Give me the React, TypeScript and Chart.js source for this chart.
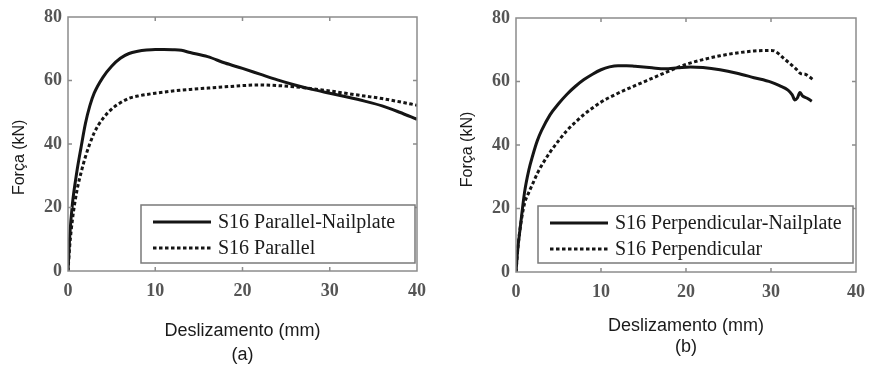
import React, { useEffect, useRef } from 'react';
import { Chart, registerables } from 'chart.js';
Chart.register(...registerables);

// ---- data ----
const X_TICKS = [0, 10, 20, 30, 40];
const Y_TICKS = [0, 20, 40, 60, 80];

const parNailX = [0, 0.2, 0.5, 1, 1.5, 2, 2.5, 3, 4, 5, 6, 7, 8, 9, 10, 11, 12, 13, 14, 16, 18, 20, 22, 24, 26, 28, 30, 32, 34, 36, 38, 40];
const parNailY = [0, 11, 21, 31, 39, 46.5, 52, 56, 61, 64.5, 67, 68.5, 69.2, 69.6, 69.8, 69.8, 69.7, 69.5, 68.8, 67.5, 65.5, 63.8, 62, 60.2, 58.6, 57.2, 56, 54.8, 53.5, 52, 50, 47.8];

const parX = [0, 0.2, 0.5, 1, 1.5, 2, 3, 4, 5, 6, 7, 8, 10, 12, 14, 16, 18, 20, 22, 24, 26, 28, 30, 32, 34, 36, 38, 40];
const parY = [0, 8, 16, 25, 31, 36, 43.5, 48, 51, 53, 54.4, 55.1, 56, 56.7, 57.2, 57.6, 58, 58.4, 58.6, 58.4, 58, 57.4, 56.7, 55.9, 55.1, 54.3, 53.3, 52.2];

const perpNailX = [0, 0.2, 0.5, 1, 1.5, 2, 2.5, 3, 4, 5, 6, 7, 8, 9, 10, 11, 12, 13, 14, 16, 17.5, 19, 20.5, 22, 24, 26, 28, 30, 31, 32, 32.5, 32.8, 33.1, 33.4, 33.7, 34.2, 34.8];
const perpNailY = [0, 7, 14, 25, 32, 37, 41.3, 44.5, 49.5, 53, 56, 58.5, 60.6, 62.3, 63.7, 64.6, 65, 65, 64.8, 64.3, 64, 64.3, 64.6, 64.4, 63.7, 62.6, 61.2, 59.8, 58.7, 57.3, 55.8, 54.2, 54.8, 56.5, 55.5, 54.8, 53.8];

const perpX = [0, 0.2, 0.5, 1, 1.5, 2, 2.5, 3, 4, 5, 6, 7, 8, 10, 12, 14, 16, 18, 20, 22, 24, 26, 28, 30, 30.5, 31.5, 32.5, 33, 33.5, 34, 34.5, 35];
const perpY = [0, 7, 14, 21.5, 25, 28, 31, 33.5, 37.7, 41.3, 44.6, 47.2, 49.6, 53.5, 56.3, 58.7, 61, 63.3, 65.4, 66.9, 68.1, 69, 69.6, 69.8, 69.5, 67.3, 65, 63.8, 62.5, 62.3, 61.5, 60.5];

const FRAME = '#8c8c8c';
const INK = '#151515';

const framePlugin = {
  id: 'frameLegend',
  afterDatasetsDraw(chart: any, _args: any, opts: any) {
    const { ctx, chartArea: a, scales } = chart;
    ctx.save();
    ctx.strokeStyle = FRAME;
    ctx.lineWidth = 1.5;
    ctx.strokeRect(a.left, a.top, a.right - a.left, a.bottom - a.top);
    ctx.beginPath();
    scales.x.ticks.forEach((t: any) => {
      const px = scales.x.getPixelForValue(t.value);
      if (px <= a.left + 1 || px >= a.right - 1) return;
      ctx.moveTo(px, a.bottom); ctx.lineTo(px, a.bottom - 4);
      ctx.moveTo(px, a.top); ctx.lineTo(px, a.top + 4);
    });
    scales.y.ticks.forEach((t: any) => {
      const py = scales.y.getPixelForValue(t.value);
      if (py <= a.top + 1 || py >= a.bottom - 1) return;
      ctx.moveTo(a.left, py); ctx.lineTo(a.left + 4, py);
      ctx.moveTo(a.right, py); ctx.lineTo(a.right - 4, py);
    });
    ctx.stroke();

    // legend box
    const L = a.left + opts.offLeft;
    const R = a.right - opts.offRight;
    const B = a.bottom - opts.offBottom;
    const T = B - opts.height;
    ctx.fillStyle = '#ffffff';
    ctx.fillRect(L, T, R - L, B - T);
    ctx.strokeStyle = '#7a7a7a';
    ctx.lineWidth = 1.5;
    ctx.strokeRect(L, T, R - L, B - T);
    chart.data.datasets.forEach((ds: any, i: number) => {
      const yy = T + 17 + i * 26;
      ctx.beginPath();
      ctx.strokeStyle = INK;
      ctx.lineWidth = 3;
      ctx.setLineDash(ds.borderDash || []);
      ctx.moveTo(L + 12, yy);
      ctx.lineTo(L + 70, yy);
      ctx.stroke();
      ctx.setLineDash([]);
      ctx.fillStyle = '#1a1a1a';
      ctx.font = '20px "Liberation Serif", serif';
      ctx.textBaseline = 'middle';
      ctx.textAlign = 'left';
      ctx.fillText(ds.label, L + 77, yy + 1);
    });
    ctx.restore();
  },
};

type Series = { label: string; xs: number[]; ys: number[]; dashed: boolean };

function Panel(props: {
  left: number; width: number; padTop: number; padRight: number;
  yWidth: number; xHeight: number; yTitlePad: number; yTitle: string;
  caption: string; xLineHeight: number; xTitlePB: number;
  series: Series[]; legend: any;
}) {
  const ref = useRef<HTMLCanvasElement>(null);
  useEffect(() => {
    const tickFont = { family: '"Liberation Serif", serif', size: 18, weight: 'bold' };
    const chart = new Chart(ref.current!, {
      type: 'line',
      data: {
        datasets: props.series.map((s) => ({
          label: s.label,
          data: s.xs.map((x, i) => ({ x, y: s.ys[i] })),
          borderColor: INK,
          borderWidth: 3,
          borderDash: s.dashed ? [3.5, 2.5] : [],
          pointRadius: 0,
          fill: false,
          cubicInterpolationMode: 'monotone',
        })),
      },
      options: {
        responsive: false,
        animation: false,
        layout: { padding: { top: props.padTop, right: props.padRight, left: 0, bottom: 0 } },
        plugins: { legend: { display: false }, tooltip: { enabled: false }, frameLegend: props.legend },
        scales: {
          x: {
            type: 'linear', min: 0, max: 40,
            afterBuildTicks: (s: any) => { s.ticks = X_TICKS.map((v) => ({ value: v })); },
            afterFit: (s: any) => { s.height = props.xHeight; },
            grid: { display: false, drawTicks: false },
            border: { display: false },
            ticks: { font: tickFont, color: '#555', padding: 10, maxRotation: 0 },
            title: {
              display: true, text: ['Deslizamento (mm)', props.caption], color: '#1a1a1a',
              font: { family: '"Liberation Sans", Arial, sans-serif', size: 18, lineHeight: props.xLineHeight },
              padding: { top: 0, bottom: props.xTitlePB },
            },
          },
          y: {
            type: 'linear', min: 0, max: 80,
            afterBuildTicks: (s: any) => { s.ticks = Y_TICKS.map((v) => ({ value: v })); },
            afterFit: (s: any) => { s.width = props.yWidth; },
            grid: { display: false, drawTicks: false },
            border: { display: false },
            ticks: { font: tickFont, color: '#555', padding: 6 },
            title: {
              display: true, text: props.yTitle, color: '#1a1a1a',
              font: { family: '"Liberation Sans", Arial, sans-serif', size: 16, lineHeight: 1.2 },
              padding: { top: props.yTitlePad, bottom: 0 },
            },
          },
        },
      } as any,
      plugins: [framePlugin],
    });
    return () => chart.destroy();
  }, []);
  return (
    <canvas
      ref={ref}
      width={props.width}
      height={365}
      style={{ position: 'absolute', left: props.left, top: 0, width: props.width, height: 365 }}
    />
  );
}

export default function App() {
  return (
    <div style={{ position: 'absolute', left: 0, top: 0, width: 875, height: 365, background: '#fff', overflow: 'hidden' }}>
      <Panel
        left={0} width={437} padTop={17} padRight={20} yWidth={68} xHeight={94}
        yTitlePad={10} yTitle={'Força (kN)      '} caption="(a)" xLineHeight={1.333} xTitlePB={-2}
        series={[
          { label: 'S16 Parallel-Nailplate', xs: parNailX, ys: parNailY, dashed: false },
          { label: 'S16 Parallel', xs: parX, ys: parY, dashed: true },
        ]}
        legend={{ offLeft: 73, offRight: 2, offBottom: 8, height: 58 }}
      />
      <Panel
        left={437} width={438} padTop={18} padRight={9} yWidth={79} xHeight={93}
        yTitlePad={21} yTitle={'Força (kN)  '} caption="(b)" xLineHeight={1.2} xTitlePB={7}
        series={[
          { label: 'S16 Perpendicular-Nailplate', xs: perpNailX, ys: perpNailY, dashed: false },
          { label: 'S16 Perpendicular', xs: perpX, ys: perpY, dashed: true },
        ]}
        legend={{ offLeft: 22, offRight: 3, offBottom: 9, height: 57 }}
      />
    </div>
  );
}
